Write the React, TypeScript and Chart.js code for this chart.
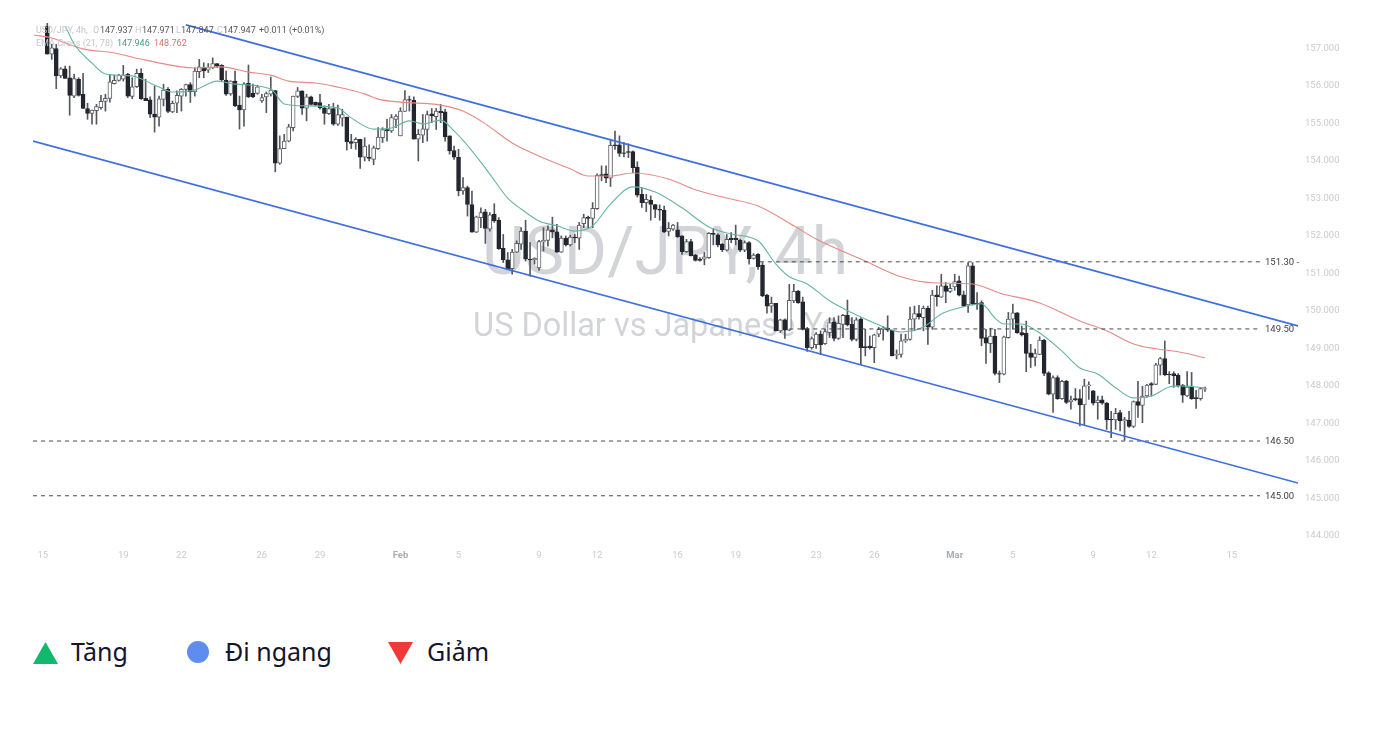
import { useEffect, useRef } from "react"
import { Chart, registerables } from "chart.js"

Chart.register(...registerables)

const opens = [
  157.6, 156.85, 157.0, 156.27, 156.46, 156.22, 155.73, 156.18, 155.78, 155.4,
  155.27, 155.34, 155.42, 155.59, 155.67, 156.06, 156.15, 156.18, 156.31, 155.72,
  155.98, 156.34, 155.67, 155.63, 155.25, 155.17, 155.64, 155.91, 155.31, 155.54,
  155.73, 155.91, 156.04, 155.84, 156.38, 156.49, 156.42, 156.48, 156.6, 156.55,
  156.16, 155.79, 156.13, 155.49, 155.36, 156.07, 155.81, 155.8, 155.6, 155.71,
  155.78, 155.88, 153.94, 154.33, 154.53, 154.89, 155.72, 155.87, 155.41, 155.71,
  155.57, 155.56, 155.42, 155.26, 155.4, 154.98, 155.14, 155.17, 154.52, 154.49,
  154.58, 154.1, 154.1, 154.04, 154.33, 154.62, 154.84, 154.8, 155.11, 154.67,
  155.32, 155.64, 155.62, 154.58, 154.69, 154.84, 155.26, 155.18, 155.33, 155.31,
  154.67, 154.28, 154.1, 153.2, 153.29, 152.84, 152.1, 152.49, 152.64, 152.18,
  152.58, 152.42, 151.67, 151.36, 151.13, 151.57, 151.78, 152.13, 151.38, 151.37,
  151.15, 151.84, 151.88, 152.16, 152.11, 151.57, 151.94, 151.76, 151.97, 151.94,
  152.33, 152.5, 152.47, 152.73, 153.64, 153.66, 153.54, 154.43, 154.43, 154.22,
  154.25, 154.25, 153.84, 153.11, 152.89, 152.96, 152.84, 152.71, 152.69, 152.12,
  152.18, 152.16, 152.0, 151.58, 151.85, 151.49, 151.38, 151.38, 151.42, 152.07,
  152.03, 151.78, 151.62, 151.94, 151.94, 151.88, 151.62, 151.82, 151.4, 151.51,
  151.22, 150.42, 150.13, 150.2, 149.47, 149.76, 149.49, 150.27, 150.53, 150.24,
  149.53, 149.02, 149.1, 149.38, 149.13, 149.42, 149.71, 149.27, 149.64, 149.88,
  149.64, 149.24, 149.78, 149.05, 149.06, 149.02, 149.38, 149.51, 149.54, 149.48,
  148.82, 148.84, 149.2, 149.24, 149.78, 149.93, 149.82, 150.07, 149.57, 150.43,
  150.37, 150.67, 150.52, 150.64, 150.8, 150.43, 150.16, 151.2, 150.2, 150.22,
  149.29, 149.13, 149.33, 148.33, 148.31, 149.29, 149.78, 149.95, 149.42, 149.4,
  148.88, 148.76, 148.84, 149.22, 148.35, 147.78, 148.22, 147.66, 148.13, 147.57,
  147.66, 147.66, 147.49, 148.0, 147.87, 147.55, 147.63, 147.54, 147.11, 147.09,
  147.29, 147.07, 147.09, 146.92, 147.58, 147.48, 147.73, 148.06, 148.04, 148.55,
  148.73, 148.31, 148.33, 148.29, 148.02, 147.73, 147.97, 147.69, 147.66, 147.91,
]
const highs = [
  157.9, 157.11, 157.11, 156.49, 156.53, 156.53, 156.31, 156.22, 156.34, 155.54,
  155.36, 155.51, 155.75, 155.78, 156.31, 156.29, 156.31, 156.55, 156.34, 156.22,
  156.45, 156.46, 156.18, 155.71, 156.0, 155.73, 156.05, 155.96, 155.6, 155.87,
  155.93, 156.05, 156.09, 156.49, 156.71, 156.62, 156.6, 156.75, 156.6, 156.57,
  156.4, 156.14, 156.4, 155.73, 156.09, 156.56, 156.05, 156.02, 155.78, 155.84,
  156.24, 155.88, 154.67, 154.71, 154.98, 155.73, 155.96, 155.87, 155.78, 155.73,
  155.57, 155.78, 155.47, 155.51, 155.54, 155.49, 155.38, 155.17, 154.71, 154.62,
  154.58, 154.62, 154.43, 154.4, 154.89, 154.89, 155.11, 155.24, 155.24, 155.42,
  155.88, 155.73, 155.71, 154.84, 155.24, 155.33, 155.4, 155.4, 155.51, 155.38,
  154.67, 154.4, 154.31, 153.56, 153.33, 153.2, 152.53, 152.75, 152.71, 152.62,
  152.86, 152.49, 152.04, 151.56, 151.64, 151.87, 152.22, 152.42, 151.82, 151.42,
  151.88, 152.22, 152.27, 152.5, 152.31, 152.0, 152.0, 152.02, 152.04, 152.36,
  152.58, 152.53, 152.89, 153.66, 153.87, 153.87, 154.58, 154.8, 154.67, 154.49,
  154.46, 154.27, 153.98, 153.29, 153.11, 153.07, 152.84, 152.83, 152.8, 152.36,
  152.31, 152.36, 152.0, 151.91, 151.91, 151.51, 151.42, 151.56, 152.09, 152.2,
  152.06, 151.8, 152.04, 152.09, 152.29, 151.91, 151.87, 151.85, 151.53, 151.53,
  151.29, 150.44, 150.37, 150.2, 149.78, 149.78, 150.71, 150.71, 150.55, 150.37,
  149.56, 149.31, 149.42, 149.47, 149.51, 149.82, 149.82, 149.87, 149.91, 150.29,
  149.82, 149.82, 149.82, 149.51, 149.33, 149.38, 149.56, 149.58, 149.87, 149.49,
  148.96, 149.38, 149.38, 150.1, 150.13, 150.15, 150.13, 150.13, 150.55, 150.67,
  150.98, 150.76, 150.71, 150.98, 150.93, 150.53, 151.29, 151.29, 150.49, 150.27,
  149.51, 149.54, 149.51, 148.4, 149.33, 149.96, 150.18, 149.96, 149.6, 149.73,
  149.11, 148.98, 149.31, 149.24, 148.38, 148.27, 148.27, 148.15, 148.15, 147.73,
  147.93, 147.9, 148.18, 148.11, 147.88, 147.73, 147.73, 147.56, 147.32, 147.4,
  147.35, 147.16, 147.32, 147.6, 148.12, 147.99, 148.04, 148.09, 148.6, 148.76,
  149.2, 148.38, 148.38, 148.33, 148.04, 148.38, 148.36, 147.88, 147.96, 147.97,
]
const lows = [
  156.85, 156.71, 155.93, 156.22, 156.2, 155.22, 155.69, 155.73, 155.4, 155.11,
  154.98, 154.98, 155.38, 155.33, 155.57, 156.05, 156.13, 156.13, 155.69, 155.66,
  155.96, 155.64, 155.61, 155.16, 154.77, 154.93, 155.47, 155.29, 155.29, 155.29,
  155.33, 155.73, 155.56, 155.73, 156.22, 156.22, 156.36, 156.46, 156.49, 156.13,
  155.75, 155.75, 155.45, 154.85, 154.93, 155.69, 155.69, 155.78, 155.56, 155.29,
  155.73, 153.71, 153.91, 154.33, 154.51, 154.8, 155.69, 155.24, 155.07, 155.49,
  155.47, 155.38, 154.98, 155.24, 154.95, 154.95, 154.93, 154.29, 154.33, 154.31,
  153.8, 154.0, 154.0, 153.9, 154.31, 154.49, 154.53, 154.76, 154.89, 154.67,
  155.32, 155.33, 154.58, 154.0, 154.49, 154.53, 155.02, 154.84, 155.02, 154.53,
  154.18, 154.04, 153.07, 153.11, 152.53, 152.1, 152.09, 152.22, 151.8, 152.13,
  152.36, 151.64, 151.29, 151.11, 150.98, 151.56, 151.64, 151.33, 150.93, 151.25,
  151.08, 151.6, 151.73, 151.95, 151.56, 151.56, 151.73, 151.73, 151.82, 151.64,
  152.22, 152.22, 152.22, 152.71, 153.47, 153.42, 153.32, 154.31, 154.12, 154.11,
  154.09, 153.69, 153.04, 152.76, 152.65, 152.42, 152.49, 152.42, 152.09, 152.0,
  152.15, 151.96, 151.51, 151.56, 151.47, 151.33, 151.33, 151.23, 151.4, 151.76,
  151.71, 151.58, 151.6, 151.82, 151.76, 151.58, 151.58, 151.25, 151.38, 151.11,
  150.38, 149.94, 149.96, 149.47, 149.42, 149.27, 149.47, 150.22, 150.2, 149.49,
  148.92, 148.98, 149.0, 148.84, 149.11, 149.29, 149.2, 149.24, 149.29, 149.6,
  149.2, 149.2, 148.58, 148.8, 148.98, 148.62, 149.31, 149.22, 149.45, 148.8,
  148.72, 148.77, 149.16, 149.22, 149.47, 149.78, 149.47, 149.11, 149.51, 150.13,
  150.36, 150.22, 150.49, 150.55, 150.4, 150.11, 149.96, 150.16, 150.04, 149.07,
  148.6, 148.89, 148.29, 148.09, 148.29, 149.27, 149.51, 149.4, 149.33, 148.38,
  148.49, 148.53, 148.83, 148.27, 147.76, 147.29, 147.64, 147.64, 147.53, 147.38,
  147.6, 146.93, 146.96, 147.64, 147.49, 147.11, 147.51, 146.84, 146.62, 146.84,
  146.8, 146.55, 146.89, 146.89, 147.16, 147.02, 147.69, 147.73, 148.03, 148.29,
  148.27, 148.06, 147.96, 147.97, 147.56, 147.71, 147.64, 147.4, 147.62, 147.85,
]
const closes = [
  156.85, 157.02, 156.27, 156.46, 156.2, 155.75, 156.2, 155.75, 155.4, 155.27,
  155.36, 155.45, 155.59, 155.67, 156.11, 156.15, 156.29, 156.29, 155.73, 155.98,
  156.34, 155.66, 155.61, 155.25, 155.17, 155.66, 155.89, 155.32, 155.54, 155.75,
  155.91, 156.04, 155.84, 156.4, 156.51, 156.4, 156.49, 156.6, 156.53, 156.16,
  155.78, 156.13, 155.47, 155.36, 156.06, 155.71, 155.71, 155.98, 155.69, 155.8,
  155.89, 153.94, 154.33, 154.53, 154.91, 155.73, 155.87, 155.41, 155.71, 155.51,
  155.49, 155.42, 155.27, 155.4, 154.98, 155.24, 155.24, 154.51, 154.47, 154.58,
  154.1, 154.4, 154.07, 154.35, 154.64, 154.84, 154.8, 155.16, 155.2, 155.33,
  155.64, 155.62, 154.58, 154.71, 154.86, 155.24, 155.2, 155.33, 155.29, 154.64,
  154.27, 154.1, 153.2, 153.29, 152.84, 152.1, 152.51, 152.62, 152.2, 152.56,
  152.4, 151.66, 151.36, 151.13, 151.57, 151.8, 152.13, 151.38, 151.36, 151.4,
  151.85, 151.88, 152.16, 152.11, 151.57, 151.94, 151.76, 151.97, 151.95, 152.29,
  152.49, 152.47, 152.74, 153.62, 153.6, 153.54, 154.42, 154.41, 154.2, 154.2,
  154.23, 153.82, 153.09, 152.89, 152.98, 152.84, 152.71, 152.69, 152.11, 152.2,
  152.29, 151.98, 151.58, 151.85, 151.47, 151.35, 151.35, 151.44, 152.07, 152.04,
  151.76, 151.63, 151.91, 151.9, 151.9, 151.62, 151.82, 151.39, 151.49, 151.18,
  150.4, 150.13, 150.2, 149.47, 149.76, 149.49, 150.28, 150.52, 150.22, 149.51,
  149.02, 149.26, 149.38, 149.1, 149.45, 149.69, 149.27, 149.67, 149.88, 149.63,
  149.24, 149.76, 149.02, 149.02, 149.02, 149.36, 149.51, 149.54, 149.49, 148.8,
  148.84, 149.2, 149.24, 149.78, 149.93, 149.84, 150.07, 149.57, 150.42, 150.38,
  150.67, 150.52, 150.6, 150.78, 150.42, 150.13, 151.2, 150.18, 150.18, 149.27,
  149.14, 149.33, 148.33, 148.31, 149.31, 149.78, 149.95, 149.42, 149.36, 148.87,
  148.76, 148.86, 149.22, 148.33, 147.78, 148.22, 147.66, 148.12, 147.56, 147.63,
  147.63, 147.49, 148.0, 148.03, 147.54, 147.62, 147.54, 147.09, 147.09, 147.27,
  147.07, 147.1, 146.92, 147.58, 147.48, 147.73, 148.02, 148.02, 148.56, 148.73,
  148.29, 148.29, 148.27, 148.0, 147.75, 147.97, 147.66, 147.66, 147.93, 147.93,
]

// slow and fast EMA at these candle numbers
const slowEmaAt = [-3, 1, 4, 8, 15, 22, 33, 39, 45, 50, 54, 60, 65, 71, 74, 79, 88, 93, 98, 104, 111, 117, 121, 126, 131, 139, 145, 152, 159, 167, 172, 183, 191, 198, 207, 213, 222, 231, 237, 243, 248, 253, 259]
const slowEma = [157.36, 157.28, 157.15, 156.99, 156.88, 156.69, 156.48, 156.51, 156.37, 156.29, 156.13, 156.08, 155.97, 155.79, 155.65, 155.57, 155.49, 155.33, 154.99, 154.48, 154.08, 153.79, 153.6, 153.6, 153.68, 153.52, 153.23, 153.01, 152.8, 152.27, 151.92, 151.33, 150.91, 150.75, 150.72, 150.48, 150.21, 149.73, 149.47, 149.12, 148.99, 148.91, 148.75]
const fastEmaAt = [4, 6, 10, 13, 19, 21, 25, 28, 33, 38, 42, 50, 53, 58, 65, 68, 73, 77, 81, 84, 88, 91, 95, 99, 103, 106, 110, 114, 118, 122, 126, 131, 136, 142, 148, 153, 159, 163, 166, 170, 175, 180, 185, 191, 196, 200, 204, 209, 212, 214, 218, 222, 227, 231, 235, 239, 243, 247, 251, 253, 259]
const fastEma = [157.6, 157.12, 156.61, 156.32, 156.27, 156.19, 155.97, 155.84, 155.89, 156.13, 156.05, 155.92, 155.52, 155.47, 155.41, 155.15, 154.85, 154.88, 155.07, 154.99, 155.09, 154.8, 154.27, 153.65, 153.01, 152.72, 152.4, 152.27, 152.13, 152.27, 152.85, 153.31, 153.17, 152.75, 152.24, 152.05, 151.87, 151.25, 150.91, 150.72, 150.27, 149.95, 149.68, 149.44, 149.57, 149.92, 150.08, 150.19, 149.81, 149.65, 149.65, 149.41, 148.93, 148.48, 148.32, 147.95, 147.68, 147.73, 147.97, 148.0, 147.95]

const upperChannel = [{ x: 31, y: 157.63 }, { x: 279.8, y: 149.6 }]
const lowerChannel = [{ x: -3.2, y: 154.53 }, { x: 279.8, y: 145.41 }]

const levelValues = [151.31, 149.52, 146.53, 145.07]
const levelLabels = ["151.30 -", "149.50", "146.50", "145.00"]
const levelStarts = [159.4, 166, -3.2, -3.2]
const levelEnd = 271.3

const priceTicks = [157, 156, 155, 154, 153, 152, 151, 150, 149, 148, 147, 146, 145, 144]
const dateTicks = [-1, 17, 30, 48, 61, 79, 92, 110, 123, 141, 154, 172, 185, 203, 216, 234, 247, 265]
const dateLabels = ["15", "19", "22", "26", "29", "Feb", "5", "9", "12", "16", "19", "23", "26", "Mar", "5", "9", "12", "15"]

const legendIcons = ["up", "flat", "down"]
const legendLabels = ["Tăng", "Đi ngang", "Giảm"]

const UI_FONT = "Roboto, sans-serif"
const ICON_LEFT = [33, 187, 388]
const TEXT_LEFT = [71, 225, 427]

const pairs = (xs: number[], ys: number[]) => xs.map((x, i) => ({ x, y: ys[i] }))
const isMonth = (label: string) => label === "Feb" || label === "Mar"

const textPlugin = {
  id: "chartText",
  beforeDatasetsDraw(chart: any) {
    const { ctx } = chart
    ctx.save()
    ctx.fillStyle = "#d3d4d8"
    ctx.textAlign = "center"
    ctx.textBaseline = "middle"
    ctx.font = `66px ${UI_FONT}`
    ctx.fillText("USD/JPY, 4h", 665, 257)
    ctx.font = `32.5px ${UI_FONT}`
    ctx.fillText("US Dollar vs Japanese Yen", 665, 328)
    ctx.restore()
  },
  afterDatasetsDraw(chart: any) {
    const { ctx, scales } = chart
    ctx.save()
    ctx.textBaseline = "middle"
    ctx.textAlign = "left"
    ctx.font = `9px ${UI_FONT}`
    const put = (text: string, x: number, y: number, color: string) => {
      ctx.fillStyle = color
      ctx.fillText(text, x, y)
    }
    put("USD/JPY, 4h,", 36, 31, "#c4c6cb")
    put("O", 93, 31, "#c4c6cb")
    put("147.937", 100, 31, "#55585f")
    put("H", 135, 31, "#c4c6cb")
    put("147.971", 142, 31, "#55585f")
    put("L", 176, 31, "#c4c6cb")
    put("147.847", 181, 31, "#55585f")
    put("C", 217, 31, "#c4c6cb")
    put("147.947", 223, 31, "#55585f")
    put("+0.011 (+0.01%)", 259, 31, "#55585f")
    put("EMA Cross (21, 78)", 36, 44, "#c4c6cb")
    put("147.946", 117, 44, "#4a9d8a")
    put("148.762", 154, 44, "#d9716f")
    ctx.font = `9.5px ${UI_FONT}`
    levelLabels.forEach((label, i) => {
      put(label, 1265, scales.y.getPixelForValue(levelValues[i]) + 0.5, "#3f4249")
    })
    ctx.restore()
  },
}

function LegendIcon({ icon, left }: { icon: string; left: number }) {
  if (icon === "flat") {
    return <span style={{ position: "absolute", left, top: 641, width: 22, height: 22, borderRadius: "50%", background: "#5f8ded" }} />
  }
  return (
    <span
      style={{
        position: "absolute",
        left,
        top: 642,
        width: 25,
        height: 22,
        background: icon === "up" ? "#10b96b" : "#ef3a38",
        clipPath: icon === "up" ? "polygon(50% 0, 100% 100%, 0 100%)" : "polygon(0 0, 100% 0, 50% 100%)",
      }}
    />
  )
}

export default function App() {
  const chartRef = useRef<HTMLCanvasElement>(null)

  useEffect(() => {
    if (!chartRef.current) return

    const wicks = highs.map((h, i) => ({ x: i, y: [lows[i], h] }))
    const bodies = opens.map((o, i) => ({ x: i, y: [o, closes[i]] }))
    const bodyFill = opens.map((o, i) => (closes[i] >= o ? "#ffffff" : "#23262e"))
    const bodyEdge = opens.map((o, i) => (closes[i] >= o ? "#5c5f66" : "#23262e"))

    const levels = levelValues.map((v, i) => ({
      type: "line",
      data: [{ x: levelStarts[i], y: v }, { x: levelEnd, y: v }],
      borderColor: "#45484f",
      borderWidth: 1,
      borderDash: [4, 4],
      pointRadius: 0,
      order: 3,
    }))

    const chart = new Chart(chartRef.current, {
      type: "bar",
      data: {
        datasets: [
          { type: "bar", data: wicks, backgroundColor: "#55585f", barThickness: 1, grouped: false, order: 7 },
          {
            type: "bar",
            data: bodies,
            backgroundColor: bodyFill,
            borderColor: bodyEdge,
            borderWidth: 1,
            borderSkipped: false,
            barThickness: 4,
            grouped: false,
            order: 6,
          },
          { type: "line", data: pairs(slowEmaAt, slowEma), borderColor: "#e68a86", borderWidth: 1.1, pointRadius: 0, cubicInterpolationMode: "monotone", order: 5 },
          { type: "line", data: pairs(fastEmaAt, fastEma), borderColor: "#66b5a2", borderWidth: 1.1, pointRadius: 0, cubicInterpolationMode: "monotone", order: 4 },
          ...levels,
          { type: "line", data: upperChannel, borderColor: "#3d6fe0", borderWidth: 1.7, pointRadius: 0, order: 1 },
          { type: "line", data: lowerChannel, borderColor: "#3d6fe0", borderWidth: 1.7, pointRadius: 0, order: 1 },
        ],
      } as any,
      plugins: [textPlugin],
      options: {
        animation: false,
        responsive: true,
        maintainAspectRatio: false,
        events: [],
        layout: { padding: { left: 33, top: 23, right: 0, bottom: 0 } },
        plugins: { legend: { display: false }, tooltip: { enabled: false } },
        scales: {
          x: {
            type: "linear",
            min: -3.2,
            max: 279.8,
            offset: false,
            grid: { display: false, drawTicks: false },
            border: { display: false },
            afterFit: (scale: any) => { scale.height = 54 },
            afterBuildTicks: (scale: any) => { scale.ticks = dateTicks.map((value) => ({ value })) },
            ticks: {
              autoSkip: false,
              maxRotation: 0,
              padding: 4,
              callback: (value: any) => dateLabels[dateTicks.indexOf(value)],
              color: (ctx: any) => (isMonth(dateLabels[ctx.index]) ? "#a9acb3" : "#c9cbd0"),
              font: (ctx: any) => ({ family: UI_FONT, size: 9.5, weight: isMonth(dateLabels[ctx.index]) ? "bold" : "normal" }),
            },
          },
          y: {
            type: "linear",
            position: "right",
            min: 143.73,
            max: 157.68,
            grid: { display: false, drawTicks: false },
            border: { display: false },
            afterFit: (scale: any) => { scale.width = 82 },
            afterBuildTicks: (scale: any) => { scale.ticks = priceTicks.map((value) => ({ value })) },
            ticks: {
              autoSkip: false,
              padding: 7,
              color: "#c9cbd0",
              font: { family: UI_FONT, size: 9.5 },
              callback: (value: any) => Number(value).toFixed(3),
            },
          },
        },
      } as any,
    })

    return () => chart.destroy()
  }, [])

  return (
    <div style={{ width: 1380, height: 732, position: "relative", fontFamily: "'Noto Sans', sans-serif" }}>
      <style>{"body{margin:0;background:#fff}"}</style>
      <div style={{ height: 600, width: 1380 }}>
        <canvas ref={chartRef} />
      </div>
      {legendLabels.map((label, i) => (
        <div key={label}>
          <LegendIcon icon={legendIcons[i]} left={ICON_LEFT[i]} />
          <span style={{ position: "absolute", left: TEXT_LEFT[i], top: 633, fontSize: 25, lineHeight: "36px", color: "#14142b" }}>{label}</span>
        </div>
      ))}
    </div>
  )
}
